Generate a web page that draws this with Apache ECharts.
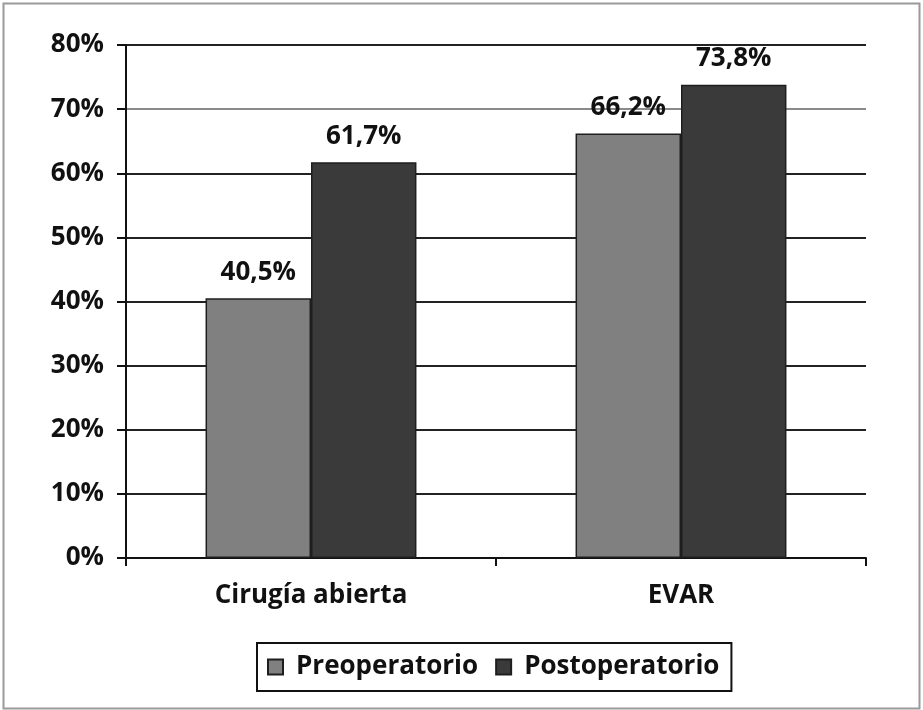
<!DOCTYPE html>
<html>
<head>
<meta charset="utf-8">
<script src="https://cdn.jsdelivr.net/npm/echarts@6/dist/echarts.min.js"></script>
<style>
html,body{margin:0;padding:0;background:#fff;}
#c{width:923px;height:710px;}
</style>
</head>
<body>
<div id="c"></div>
<script>
const categories = ['Cirugía abierta', 'EVAR'];
const seriesNames = ['Preoperatorio', 'Postoperatorio'];
const preoperatorio = [40.5, 66.2];
const postoperatorio = [61.7, 73.8];
const yTicks = [0, 10, 20, 30, 40, 50, 60, 70, 80];

const font = '"Open Sans", "DejaVu Sans", sans-serif';
const fs = 26;
const chart = echarts.init(document.getElementById('c'), null, {renderer: 'canvas'});
const fmt = v => v.toFixed(1).replace('.', ',') + '%';

chart.setOption({
  animation: false,
  backgroundColor: '#fff',
  graphic: [{
    type: 'rect', left: 1, top: 1,
    shape: {width: 916, height: 705},
    style: {fill: 'none', stroke: '#9a9a9a', lineWidth: 2},
    silent: true, z: -10
  }],
  grid: {left: 126, right: 57, top: 45, bottom: 152, containLabel: false},
  legend: {
    data: seriesNames,
    left: 257, top: 643,
    padding: [11, 12, 11, 10],
    borderColor: '#111', borderWidth: 2,
    itemWidth: 15, itemHeight: 15, itemGap: 17,
    icon: 'rect',
    textStyle: {fontFamily: font, fontWeight: 'bold', fontSize: fs, color: '#111', padding: [0, 0, 0, 8]}
  },
  xAxis: {
    type: 'category', data: categories,
    axisLine: {lineStyle: {color: '#111', width: 2}},
    axisTick: {show: true, length: 8, alignWithLabel: false, lineStyle: {color: '#111', width: 2}},
    axisLabel: {fontFamily: font, fontWeight: 'bold', fontSize: fs, color: '#111', margin: 25}
  },
  yAxis: {
    type: 'value', min: yTicks[0], max: yTicks[yTicks.length - 1], interval: 10,
    axisLine: {show: true, lineStyle: {color: '#111', width: 2}},
    axisTick: {show: true, length: 9, lineStyle: {color: '#111', width: 2}},
    axisLabel: {formatter: '{value}%', fontFamily: font, fontWeight: 'bold', fontSize: fs, color: '#111', margin: 22},
    splitLine: {lineStyle: {color: ['#222', '#222', '#222', '#222', '#222', '#222', '#222', '#8a8a8a', '#222'], width: 2}}
  },
  series: [
    {
      name: seriesNames[0], type: 'bar', data: preoperatorio,
      barGap: '0%', barCategoryGap: '43%',
      itemStyle: {color: '#808080', borderColor: '#1e1e1e', borderWidth: 1.5},
      label: {show: true, position: 'top', distance: 13, formatter: p => fmt(p.value),
        fontFamily: font, fontWeight: 'bold', fontSize: fs, color: '#111'}
    },
    {
      name: seriesNames[1], type: 'bar', data: postoperatorio,
      barGap: '0%', barCategoryGap: '43%',
      itemStyle: {color: '#3a3a3a', borderColor: '#1e1e1e', borderWidth: 1.5},
      label: {show: true, position: 'top', distance: 13, formatter: p => fmt(p.value),
        fontFamily: font, fontWeight: 'bold', fontSize: fs, color: '#111'}
    }
  ]
});
</script>
</body>
</html>
